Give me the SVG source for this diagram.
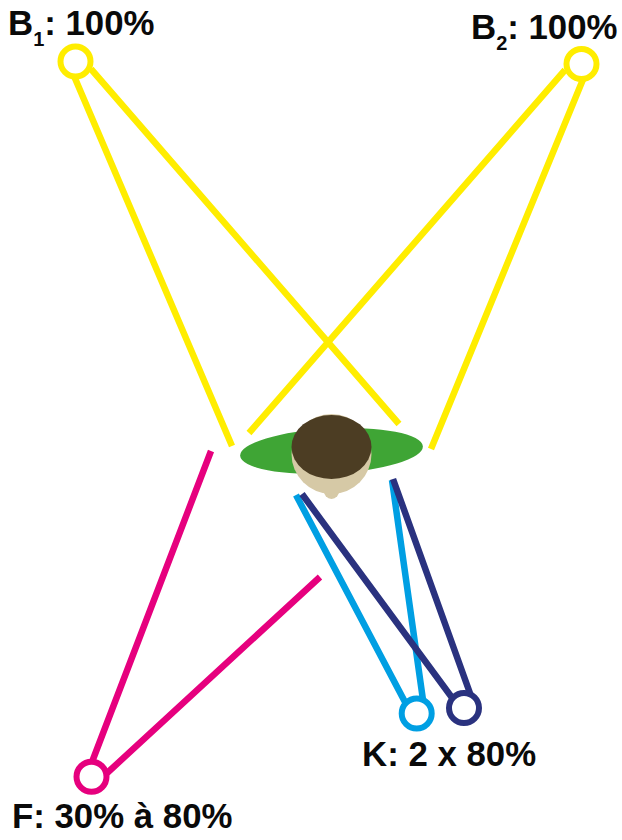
<svg xmlns="http://www.w3.org/2000/svg" width="622" height="840" viewBox="0 0 622 840">
<style>
text{font-family:"Liberation Sans",Arial,sans-serif;font-weight:700;font-size:34.800px;fill:#0a0a0a}
.s{font-size:20px}
.c{fill:#fff;stroke-width:6}
.l{fill:none;stroke-width:6.500}
.y{stroke:#ffed00}.m{stroke:#e6007e}.b{stroke:#009fe3}.n{stroke:#2a327f}
</style>
<g id="connectors">
<path class="l y" d="M74 76L232 446M91 69L399 424M565 70L249 433M584 77L431 449"/>
<path class="l m" d="M211 451L92 762M320 577L106 774"/>
<path class="l b" d="M296 495L405 702M392 480L423 700"/>
<path class="l n" d="M302 494L453 699M393 479L471 696"/>
</g>
<g id="person">
<ellipse cx="331.500" cy="451" rx="91.500" ry="22.500" transform="rotate(-3 331.500 451)" fill="#3fa535"/>
<ellipse cx="331.500" cy="490" rx="8" ry="9" fill="#d6c9a6"/>
<circle cx="331.500" cy="454" r="40" fill="#d6c9a6"/>
<ellipse cx="331.500" cy="447" rx="40" ry="32" fill="#4c3d23"/>
</g>
<g id="b1"><circle class="c y" cx="75.500" cy="61.500" r="15"/><text x="8" y="35">B<tspan class="s" dy="11">1</tspan><tspan dy="-11">: 100%</tspan></text></g>
<g id="b2"><circle class="c y" cx="581.500" cy="64" r="15"/><text x="471" y="39">B<tspan class="s" dy="11">2</tspan><tspan dy="-11">: 100%</tspan></text></g>
<g id="k"><circle class="c b" cx="416.700" cy="713.500" r="15"/><circle class="c n" cx="464" cy="708" r="15"/><text x="362" y="766">K: 2 x 80%</text></g>
<g id="f"><circle class="c m" cx="91.500" cy="776.700" r="15"/><text x="12" y="828">F: 30% à 80%</text></g>
</svg>
